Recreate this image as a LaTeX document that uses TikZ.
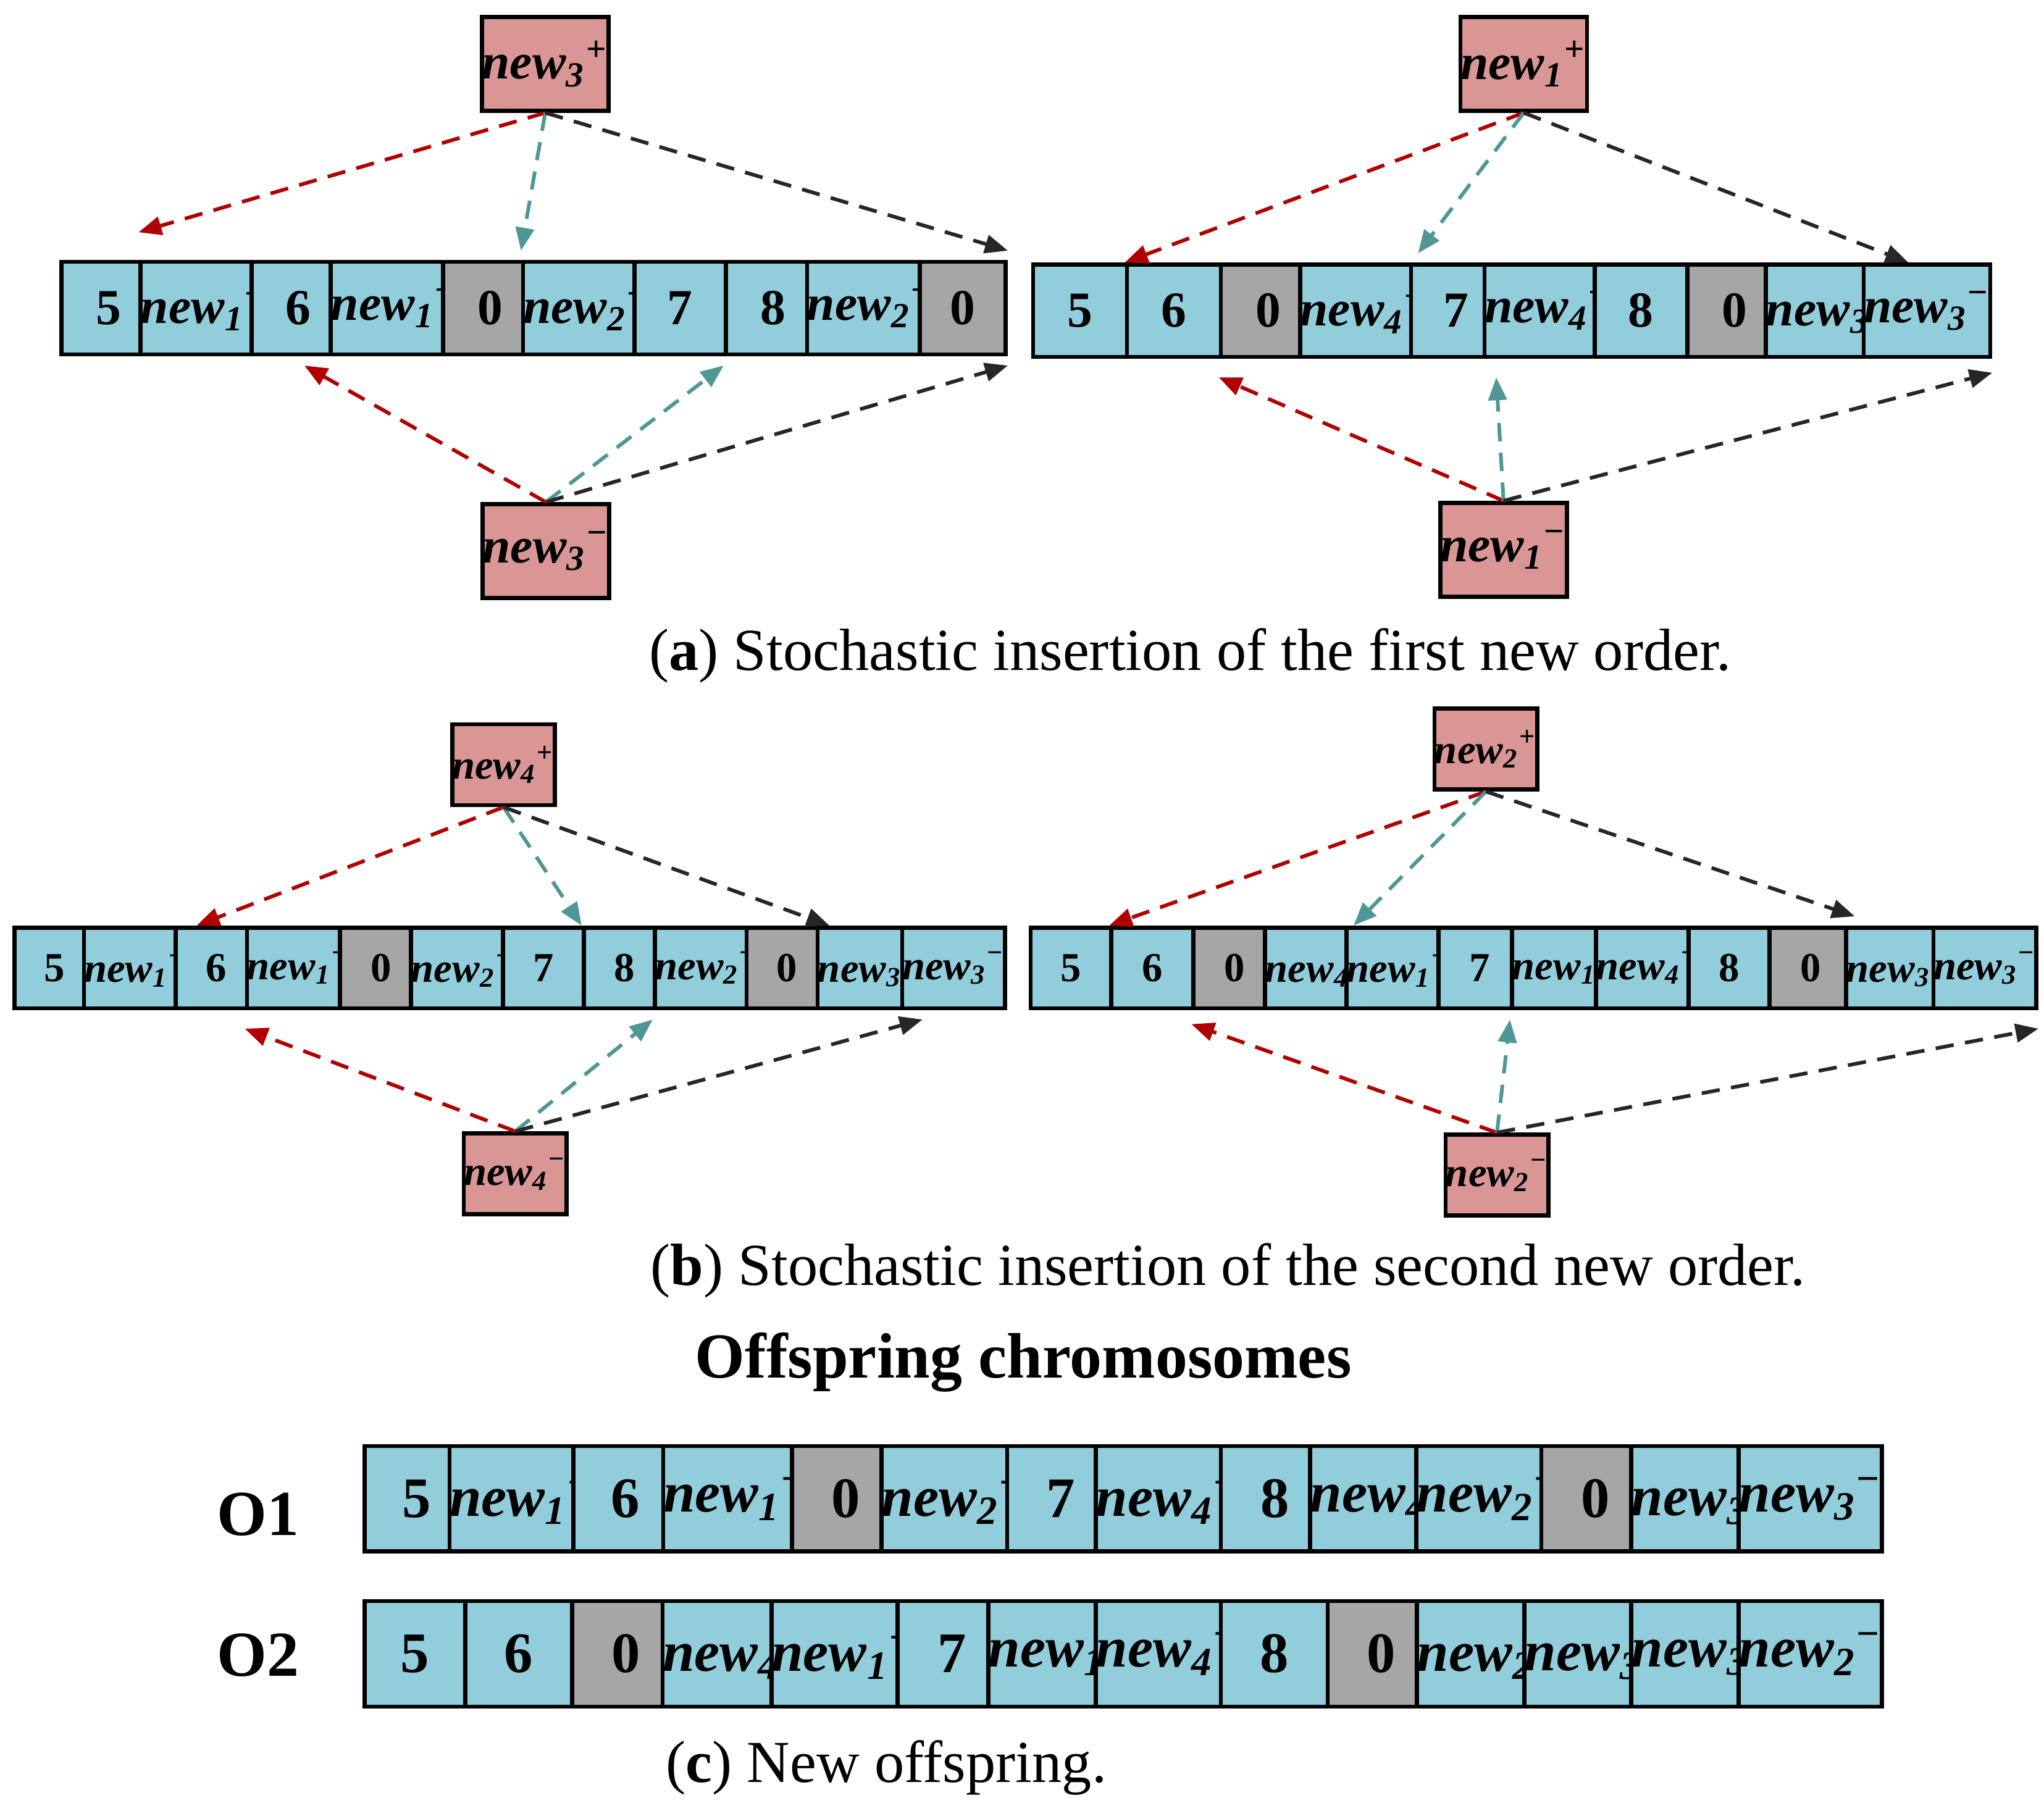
\documentclass[tikz,border=0pt]{standalone}
\usepackage{fontspec}
\setmainfont{Liberation Serif}
\usetikzlibrary{arrows.meta}
\definecolor{cy}{HTML}{92CDDC}
\definecolor{gr}{HTML}{A6A6A6}
\definecolor{pk}{HTML}{D99694}
\definecolor{rr}{HTML}{B00000}
\definecolor{tl}{HTML}{4F9696}
\definecolor{bk}{HTML}{262626}
\newcommand\nw[2]{\textbf{\textit{new}}\textsubscript{\textbf{\textit{#1}}}\textsuperscript{#2}}
\newcommand\mn{\textminus}
\newcommand\cell[7]{\node[#6, minimum width={(#3-#2)*0.01cm}, minimum height={(#5-#4)*0.01cm}] (#1) at ({(#2+#3)/2*0.01},{-(#4+#5)/2*0.01}) {#7};}
\tikzset{
 cbase/.style={draw=black, line width=0.9pt, inner sep=0pt},
 cc/.style={cbase, fill=cy},
 gg/.style={cbase, fill=gr},
 pp/.style={cbase, fill=pk},
 arr/.style={line width=0.8pt, dash pattern=on 4pt off 2.5pt, -{Triangle[length=5pt,width=4pt]}},
 arred/.style={arr, rr},
 arteal/.style={arr, tl},
 arblk/.style={arr, bk},
 fa/.style={font=\fontsize{11}{12}\selectfont\bfseries},
 fb/.style={font=\fontsize{9}{10}\selectfont\bfseries},
 fc/.style={font=\fontsize{12.5}{14}\selectfont\bfseries},
 captxt/.style={font=\fontsize{13}{15}\selectfont},
}
\begin{document}
\begin{tikzpicture}
\useasboundingbox (0,0) rectangle (15.68,-13.89);
% ---- a left
\foreach \i/\a/\b/\s/\t in {1/47/120/cc/5,2/120/193/cc/{\nw{1}{+}},3/193/265/cc/6,4/265/340/cc/{\nw{1}{\mn}},5/340/413/gg/0,6/413/487/cc/{\nw{2}{+}},7/487/557/cc/7,8/557/630/cc/8,9/630/706/cc/{\nw{2}{\mn}},10/706/772/gg/0}
 {\cell{aL\i}{\a}{\b}{201}{272}{\s,fa}{\t}}
\cell{aLt}{379}{458}{13}{85}{pp,fa}{\nw{3}{+}}
\cell{aLb}{380}{458}{387}{459}{pp,fa}{\nw{3}{\mn}}
\draw[arred] (aLt.south) -- ([yshift=6pt]aL2.north west);
\draw[arteal] (aLt.south) -- ([yshift=2pt]aL6.north west);
\draw[arblk] (aLt.south) -- ([yshift=2pt]aL10.north east);
\draw[arred] (aLb.north) -- ([xshift=12pt,yshift=-2pt]aL3.south west);
\draw[arteal] (aLb.north) -- ([yshift=-2pt]aL8.south west);
\draw[arblk] (aLb.north) -- ([yshift=-2pt]aL10.south east);
% ---- a right
\foreach \i/\a/\b/\s/\t in {1/793/865/cc/5,2/865/937/cc/6,3/937/1010/gg/0,4/1010/1083/cc/{\nw{4}{+}},5/1083/1152/cc/7,6/1152/1224/cc/{\nw{4}{\mn}},7/1224/1295/cc/8,8/1295/1368/gg/0,9/1368/1440/cc/{\nw{3}{+}},10/1440/1518/cc/{\nw{3}{\mn}}}
 {\cell{aR\i}{\a}{\b}{203}{274}{\s,fa}{\t}}
\cell{aRt}{1130}{1209}{13}{85}{pp,fa}{\nw{1}{+}}
\cell{aRb}{1115}{1193}{386}{458}{pp,fa}{\nw{1}{\mn}}
\draw[arred] (aRt.south) -- (aR2.north west);
\draw[arteal] (aRt.south) -- ([xshift=2pt,yshift=2pt]aR5.north west);
\draw[arblk] (aRt.south) -- ([xshift=3pt]aR9.north east);
\draw[arred] (aRb.north) -- ([yshift=-4pt]aR3.south west);
\draw[arteal] (aRb.north) -- ([xshift=3pt,yshift=-4pt]aR6.south west);
\draw[arblk] (aRb.north) -- ([yshift=-3pt]aR10.south east);
\node[captxt] (capa) at (9.13,-5.03) {(\textbf{a}) Stochastic insertion of the first new order.};
% ---- b left
\foreach \i/\a/\b/\s/\t in {1/11/73/cc/5,2/73/135/cc/{\nw{1}{+}},3/135/197/cc/6,4/197/261/cc/{\nw{1}{\mn}},5/261/324/gg/0,6/324/386/cc/{\nw{2}{+}},7/386/448/cc/7,8/448/511/cc/8,9/511/573/cc/{\nw{2}{\mn}},10/573/635/gg/0,11/635/699/cc/{\nw{3}{+}},12/699/765/cc/{\nw{3}{\mn}}}
 {\cell{bL\i}{\a}{\b}{712}{774}{\s,fb}{\t}}
\cell{bLt}{356}{417}{556}{618}{pp,fb}{\nw{4}{+}}
\cell{bLb}{362}{429}{870}{932}{pp,fb}{\nw{4}{\mn}}
\draw[arred] (bLt.south) -- ([xshift=5pt]bL3.north west);
\draw[arteal] (bLt.south) -- (bL8.north west);
\draw[arblk] (bLt.south) -- (bL10.north east);
\draw[arred] (bLb.north) -- ([yshift=-4pt]bL4.south west);
\draw[arteal] (bLb.north) -- ([yshift=-2pt]bL9.south west);
\draw[arblk] (bLb.north) -- ([yshift=-2pt]bL11.south east);
% ---- b right
\foreach \i/\a/\b/\s/\t in {1/791/853/cc/5,2/853/916/cc/6,3/916/979/gg/0,4/979/1042/cc/{\nw{4}{+}},5/1042/1104/cc/{\nw{1}{+}},6/1104/1167/cc/7,7/1167/1233/cc/{\nw{1}{\mn}},8/1233/1296/cc/{\nw{4}{\mn}},9/1296/1358/cc/8,10/1358/1422/gg/0,11/1422/1491/cc/{\nw{3}{+}},12/1491/1556/cc/{\nw{3}{\mn}}}
 {\cell{bR\i}{\a}{\b}{712}{774}{\s,fb}{\t}}
\cell{bRt}{1109}{1172}{544}{606}{pp,fb}{\nw{2}{+}}
\cell{bRb}{1115}{1183}{871}{933}{pp,fb}{\nw{2}{\mn}}
\draw[arred] (bRt.south) -- (bR2.north west);
\draw[arteal] (bRt.south) -- ([xshift=2pt]bR5.north west);
\draw[arblk] (bRt.south) -- ([yshift=2pt]bR10.north east);
\draw[arred] (bRb.north) -- ([yshift=-3pt]bR3.south west);
\draw[arteal] (bRb.north) -- ([yshift=-2pt]bR7.south west);
\draw[arblk] (bRb.north) -- ([yshift=-4pt]bR12.south east);
\node[captxt] (capb) at (9.42,-9.75) {(\textbf{b}) Stochastic insertion of the second new order.};
% ---- c
\node[font=\fontsize{14}{16}\selectfont\bfseries] (off) at (7.85,-10.45) {Offspring chromosomes};
\node[font=\fontsize{14}{16}\selectfont\bfseries] (o1) at (1.98,-11.62) {O1};
\node[font=\fontsize{14}{16}\selectfont\bfseries] (o2) at (1.98,-12.70) {O2};
\foreach \i/\a/\b/\s/\t in {1/280/360/cc/5,2/360/440/cc/{\nw{1}{+}},3/440/520/cc/6,4/520/608/cc/{\nw{1}{\mn}},5/608/690/gg/0,6/690/773/cc/{\nw{2}{+}},7/773/855/cc/7,8/855/937/cc/{\nw{4}{+}},9/937/1020/cc/8,10/1020/1101/cc/{\nw{4}{\mn}},11/1101/1183/cc/{\nw{2}{\mn}},12/1183/1266/gg/0,13/1266/1348/cc/{\nw{3}{+}},14/1348/1431/cc/{\nw{3}{\mn}}}
 {\cell{cA\i}{\a}{\b}{1110}{1191}{\s,fc}{\t}}
\foreach \i/\a/\b/\s/\t in {1/280/357/cc/5,2/357/439/cc/6,3/439/522/gg/0,4/522/605/cc/{\nw{4}{+}},5/605/689/cc/{\nw{1}{+}},6/689/772/cc/7,7/772/855/cc/{\nw{1}{\mn}},8/855/937/cc/{\nw{4}{\mn}},9/937/1019/cc/8,10/1019/1101/gg/0,11/1101/1184/cc/{\nw{2}{+}},12/1184/1266/cc/{\nw{3}{+}},13/1266/1348/cc/{\nw{3}{\mn}},14/1348/1431/cc/{\nw{2}{\mn}}}
 {\cell{cB\i}{\a}{\b}{1229}{1310}{\s,fc}{\t}}
\node[captxt] (capc) at (6.80,-13.56) {(\textbf{c}) New offspring.};
\end{tikzpicture}
\end{document}
